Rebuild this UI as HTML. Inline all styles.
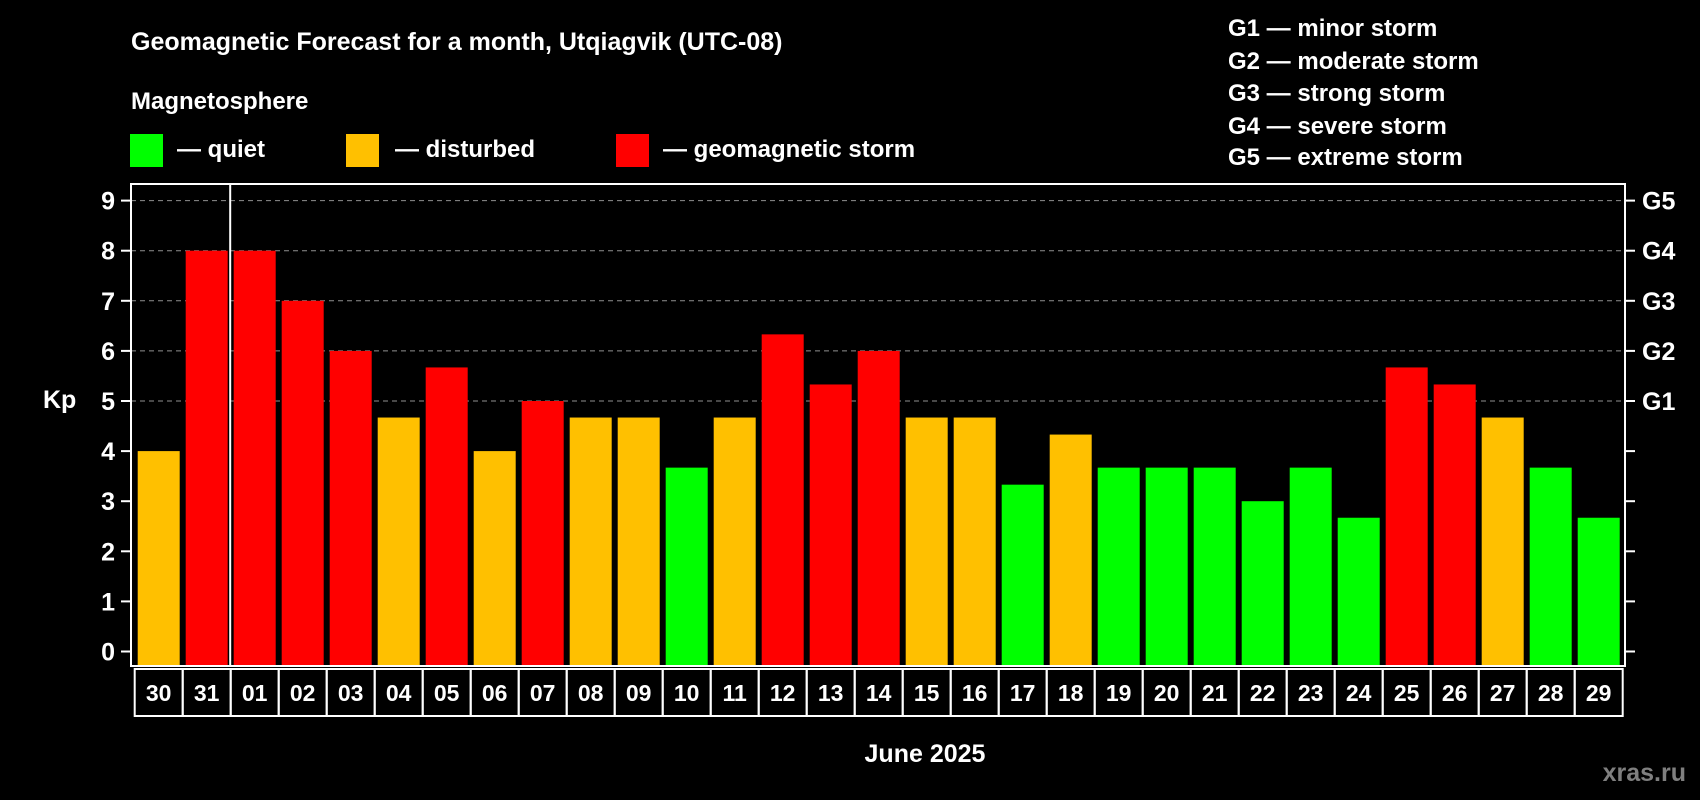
<!DOCTYPE html>
<html><head><meta charset="utf-8"><style>
html,body{margin:0;padding:0;background:#000;}
svg{display:block;font-family:"Liberation Sans",Arial,sans-serif;font-weight:bold;}
</style></head><body>
<svg id="chart" width="1700" height="800" viewBox="0 0 1700 800" xmlns="http://www.w3.org/2000/svg">
<rect x="0" y="0" width="1700" height="800" fill="#000"/>
<text x="131" y="50" fill="#fff" font-size="25">Geomagnetic Forecast for a month, Utqiagvik (UTC-08)</text>
<text x="131" y="109" fill="#fff" font-size="24">Magnetosphere</text>
<g>
<rect x="130" y="134" width="33" height="33" fill="#00ff00"/>
<text x="177" y="157" fill="#fff" font-size="24">— quiet</text></g>
<g>
<rect x="346" y="134" width="33" height="33" fill="#ffc000"/>
<text x="395" y="157" fill="#fff" font-size="24">— disturbed</text></g>
<g>
<rect x="616" y="134" width="33" height="33" fill="#ff0000"/>
<text x="663" y="157" fill="#fff" font-size="24">— geomagnetic storm</text></g>
<g font-size="24" fill="#fff">
<text x="1228" y="36">G1 — minor storm</text>
<text x="1228" y="69">G2 — moderate storm</text>
<text x="1228" y="101">G3 — strong storm</text>
<text x="1228" y="134">G4 — severe storm</text>
<text x="1228" y="165">G5 — extreme storm</text>
</g>
<text x="43" y="408" fill="#fff" font-size="25">Kp</text>
<text x="925" y="762" fill="#fff" font-size="25" text-anchor="middle">June 2025</text>
<text x="1686" y="781" fill="#7f7f7f" font-size="25" text-anchor="end">xras.ru</text>
<g id="grid"></g><g id="bars"></g><g id="axes"></g><g id="dates"></g>
</svg>
<script>
const days = ["30","31","01","02","03","04","05","06","07","08","09","10","11","12","13","14","15","16","17","18","19","20","21","22","23","24","25","26","27","28","29"];
const kpValues = [4,8,8,7,6,4.67,5.67,4,5,4.67,4.67,3.67,4.67,6.33,5.33,6,4.67,4.67,3.33,4.33,3.67,3.67,3.67,3,3.67,2.67,5.67,5.33,4.67,3.67,2.67];
const yTicks = [0,1,2,3,4,5,6,7,8,9];
const gLabels = ["G1","G2","G3","G4","G5"];
const gLevels = [5,6,7,8,9];

const NS = "http://www.w3.org/2000/svg";
const plotL = 131, plotR = 1625, plotT = 184, plotB = 666;
const slot0 = 134.7, slotW = 48;
function y(v){ return 651.5 - v * 50.1; }
function x(i){ return slot0 + i * slotW; }
function color(v){ return v >= 5 ? "#ff0000" : (v >= 4 ? "#ffc000" : "#00ff00"); }
function mk(tag, attrs, parent){ const e = document.createElementNS(NS, tag); for (const k in attrs) e.setAttribute(k, attrs[k]); parent.appendChild(e); return e; }

const grid = document.getElementById("grid");
gLevels.forEach((lv) => {
  const l = mk("line", {x1: plotL, x2: plotR, y1: y(lv), y2: y(lv), stroke: "#909090", "stroke-width": 1, "stroke-dasharray": "5,4"}, grid);
  
  
});

const bars = document.getElementById("bars");
kpValues.forEach((v, i) => {
  const r = mk("rect", {x: x(i) + 3, y: y(v), width: 42, height: plotB - 1 - y(v), fill: color(v)}, bars);
  
  
});

const axes = document.getElementById("axes");
const frame = mk("rect", {x: plotL, y: plotT, width: plotR - plotL, height: plotB - plotT, fill: "none", stroke: "#fff", "stroke-width": 2}, axes);


const sep = mk("line", {x1: x(2) - 0.5, x2: x(2) - 0.5, y1: plotT, y2: plotB, stroke: "#fff", "stroke-width": 2}, axes);


yTicks.forEach((t) => {
  const a = mk("line", {x1: plotL - 10, x2: plotL, y1: y(t), y2: y(t), stroke: "#fff", "stroke-width": 2}, axes);
  
  
  const b = mk("line", {x1: plotR, x2: plotR + 10, y1: y(t), y2: y(t), stroke: "#fff", "stroke-width": 2}, axes);
  
  
  const tx = mk("text", {x: 115, y: y(t) + 9, fill: "#fff", "font-size": 25, "text-anchor": "end"}, axes);
  tx.textContent = t;
  
  
});
gLevels.forEach((lv, k) => {
  const tx = mk("text", {x: 1642, y: y(lv) + 9, fill: "#fff", "font-size": 25}, axes);
  tx.textContent = gLabels[k];
  
  
});

const dates = document.getElementById("dates");
days.forEach((d, i) => {
  const r = mk("rect", {x: x(i), y: 669, width: slotW, height: 47, fill: "none", stroke: "#fff", "stroke-width": 2}, dates);
  
  
  const t = mk("text", {x: x(i) + slotW / 2, y: 701, fill: "#fff", "font-size": 23, "text-anchor": "middle"}, dates);
  t.textContent = d;
  
  
});
</script>
</body></html>
